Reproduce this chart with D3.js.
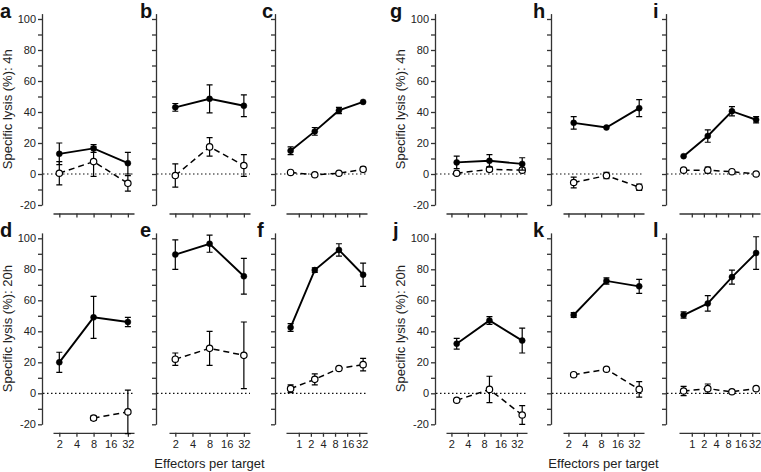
<!DOCTYPE html>
<html>
<head>
<meta charset="utf-8">
<script src="https://cdn.jsdelivr.net/npm/d3@7"></script>
<style>
  body { margin: 0; background: #fff; }
  text { font-family: "Liberation Sans", Arial, sans-serif; }
</style>
</head>
<body>
<script>
// effector:target ratios
var ratiosA = [2, 8, 32];          // panels a, b, d, e
var ratiosG = [2.5, 10, 40];       // panels g, h, j, k
var ratiosC = [0.625, 2.5, 10, 40]; // panels c, f, i, l

var ticks3 = [2, 4, 8, 16, 32];
var ticks4 = [1, 2, 4, 8, 16, 32];
var yTicks = [-20, -10, 0, 10, 20, 30, 40, 50, 60, 70, 80, 90, 100];
var yLabelTicks = [-20, 0, 20, 40, 60, 80, 100];

// 4h (top row)
var aSolid = [13, 16.5, 7],        aSolidErr = [7, 2.5, 7];
var aOpen = [0.5, 8, -6],          aOpenErr = [7.5, 9.5, 5];
var bSolid = [43, 48.5, 44],       bSolidErr = [2.5, 9, 7];
var bOpen = [-1, 17.5, 5.5],       bOpenErr = [7.5, 6, 7];
var cSolid = [15, 27.5, 41, 46.5], cSolidErr = [2.5, 2.5, 2, 0.5];
var cOpen = [1, -0.5, 0.5, 3],     cOpenErr = [0.5, 0.5, 0.5, 1.5];
var gSolid = [7.5, 8.5, 6.5],      gSolidErr = [4, 4, 4];
var gOpen = [0.5, 3, 2.5],         gOpenErr = [0.5, 1.5, 1.5];
var hSolid = [33, 30, 42.5],       hSolidErr = [4, 0.5, 5.5];
var hOpen = [-5.5, -1, -8.5],      hOpenErr = [3.5, 2, 2];
var iSolid = [11.5, 24.5, 40.5, 35], iSolidErr = [0.5, 4, 3, 2];
var iOpen = [2.5, 2.5, 1.5, 0],    iOpenErr = [1, 2, 0.5, 0.5];

// 20h (bottom row)
var dSolid = [20, 49, 46],         dSolidErr = [6.5, 13.5, 3];
var dOpen = [null, -16, -12],      dOpenErr = [null, 1.5, 14];
var eSolid = [89.5, 96.5, 75.5],   eSolidErr = [9.5, 5.5, 11.5];
var eOpen = [22, 29, 24.5],        eOpenErr = [4, 11, 21.5];
var fSolid = [42.5, 79.5, 92.5, 76.5], fSolidErr = [2.5, 1.5, 4, 7.5];
var fOpen = [3, 9, 16, 18.5],      fOpenErr = [2.5, 3.5, 1, 4];
var jSolid = [32, 47, 34],         jSolidErr = [3.5, 2.5, 8];
var jOpen = [-4.5, 2.5, -14],      jOpenErr = [0.5, 8.5, 6];
var kSolid = [50.5, 72.5, 69],     kSolidErr = [1.5, 2, 4.5];
var kOpen = [12, 15.5, 2.5],       kOpenErr = [1, 0.5, 5];
var lSolid = [50.5, 58, 75, 90.5], lSolidErr = [2, 5, 4.5, 10.5];
var lOpen = [1.5, 3, 1, 3],        lOpenErr = [3, 3, 0.5, 1];

var W = 761, H = 472;
var colAxisX = [42, 156, 275, 435, 551, 666];
var colXStart = [53, 169, 286, 446, 563, 679];
var rowTop = [19, 238.3];   // y of 100%
var xLen = 81;

var panels = [
  {id: "a", row: 0, col: 0, xs: ratiosA, solid: aSolid, solidErr: aSolidErr, open: aOpen, openErr: aOpenErr},
  {id: "b", row: 0, col: 1, xs: ratiosA, solid: bSolid, solidErr: bSolidErr, open: bOpen, openErr: bOpenErr},
  {id: "c", row: 0, col: 2, xs: ratiosC, solid: cSolid, solidErr: cSolidErr, open: cOpen, openErr: cOpenErr},
  {id: "g", row: 0, col: 3, xs: ratiosG, solid: gSolid, solidErr: gSolidErr, open: gOpen, openErr: gOpenErr},
  {id: "h", row: 0, col: 4, xs: ratiosG, solid: hSolid, solidErr: hSolidErr, open: hOpen, openErr: hOpenErr},
  {id: "i", row: 0, col: 5, xs: ratiosC, solid: iSolid, solidErr: iSolidErr, open: iOpen, openErr: iOpenErr},
  {id: "d", row: 1, col: 0, xs: ratiosA, solid: dSolid, solidErr: dSolidErr, open: dOpen, openErr: dOpenErr},
  {id: "e", row: 1, col: 1, xs: ratiosA, solid: eSolid, solidErr: eSolidErr, open: eOpen, openErr: eOpenErr},
  {id: "f", row: 1, col: 2, xs: ratiosC, solid: fSolid, solidErr: fSolidErr, open: fOpen, openErr: fOpenErr},
  {id: "j", row: 1, col: 3, xs: ratiosG, solid: jSolid, solidErr: jSolidErr, open: jOpen, openErr: jOpenErr},
  {id: "k", row: 1, col: 4, xs: ratiosG, solid: kSolid, solidErr: kSolidErr, open: kOpen, openErr: kOpenErr},
  {id: "l", row: 1, col: 5, xs: ratiosC, solid: lSolid, solidErr: lSolidErr, open: lOpen, openErr: lOpenErr}
];

var letterX = {a: 0, b: 140, c: 262, g: 390, h: 533, i: 653, d: 0, e: 140, f: 257, j: 393, k: 533, l: 653};

var svg = d3.select("body").append("svg")
  .attr("width", W)
  .attr("height", H);

panels.forEach(function(p) {
  var g = svg.append("g");
  var top = rowTop[p.row];
  var bottom = top + 186;
  var axisX = colAxisX[p.col];
  var x0 = colXStart[p.col];
  var xAxisY = bottom + 8.5;
  var fourPt = p.xs === ratiosC;

  var xDomain = fourPt ? [0.48, 50] : (p.xs === ratiosG ? [1.59, 49] : [1.55, 41]);
  var x = d3.scaleLog().domain(xDomain).range([x0, x0 + xLen]);
  var y = d3.scaleLinear().domain([-20, 100]).range([bottom, top]);
  var yAx = d3.scaleLinear().domain([-20, 103.5]).range([bottom, y(103.5)]);

  var labeled = (p.col === 0 || p.col === 3);

  // y axis
  var ya = g.append("g")
    .attr("transform", "translate(" + axisX + ",0)")
    .call(d3.axisLeft(yAx)
      .tickValues(yTicks)
      .tickSize(4)
      .tickSizeOuter(0)
      .tickPadding(2)
      .tickFormat(function(d) {
        return labeled && yLabelTicks.indexOf(d) >= 0 ? String(d) : "";
      }));
  ya.selectAll("path, line").attr("stroke", "#333").attr("stroke-width", 1.3);
  ya.selectAll("text").attr("font-size", "11px").attr("fill", "#222")
    .style("font-family", "'Liberation Sans', Arial, sans-serif");

  // x axis
  var xa = g.append("g")
    .attr("transform", "translate(0," + xAxisY + ")")
    .call(d3.axisBottom(x)
      .tickValues(fourPt ? ticks4 : ticks3)
      .tickSize(4)
      .tickSizeOuter(0)
      .tickPadding(3)
      .tickFormat(function(d) { return p.row === 1 ? String(d) : ""; }));
  xa.selectAll("path, line").attr("stroke", "#333").attr("stroke-width", 1.3);
  xa.selectAll("text").attr("font-size", "11px").attr("fill", "#222")
    .style("font-family", "'Liberation Sans', Arial, sans-serif")
    .attr("dx", function(d) {
      if (!fourPt) return 0;
      return d === 32 ? 2.5 : (d === 16 ? 0.5 : 0);
    });

  // zero line
  g.append("line")
    .attr("x1", axisX + 1)
    .attr("x2", x0 + xLen)
    .attr("y1", y(0))
    .attr("y2", y(0))
    .attr("stroke", "#111")
    .attr("stroke-width", 1.2)
    .attr("stroke-dasharray", "1.5,2.5");

  // y label
  if (labeled) {
    g.append("text")
      .attr("transform", "translate(" + (axisX - 30) + "," + ((yAx.range()[0] + yAx.range()[1]) / 2) + ") rotate(-90)")
      .attr("text-anchor", "middle")
      .attr("font-size", "13px")
      .attr("fill", "#222")
      .text(p.row === 0 ? "Specific lysis (%): 4h" : "Specific lysis (%): 20h");
  }

  // panel letter
  g.append("text")
    .attr("x", letterX[p.id])
    .attr("y", top - 1.5)
    .attr("font-size", "20px")
    .attr("font-weight", "bold")
    .attr("fill", "#111")
    .text(p.id);

  function series(vals, errs, dashed, filled) {
    var pts = vals.map(function(v, i) {
      return {x: p.xs[i], v: v, e: errs[i]};
    }).filter(function(d) { return d.v !== null; });

    g.selectAll(null)
      .data(pts.filter(function(d) { return d.e > 0.6; }))
      .enter()
      .append("path")
      .attr("d", function(d) {
        var cx = x(d.x), y1 = y(d.v + d.e), y2 = y(d.v - d.e);
        return "M" + cx + "," + y1 + "V" + y2 +
          "M" + (cx - 3) + "," + y1 + "H" + (cx + 3) +
          "M" + (cx - 3) + "," + y2 + "H" + (cx + 3);
      })
      .attr("fill", "none")
      .attr("stroke", "#000")
      .attr("stroke-width", 1.2);

    var line = d3.line()
      .x(function(d) { return x(d.x); })
      .y(function(d) { return y(d.v); });

    g.append("path")
      .datum(pts)
      .attr("d", line)
      .attr("fill", "none")
      .attr("stroke", "#000")
      .attr("stroke-width", dashed ? 1.5 : 1.9)
      .attr("stroke-dasharray", dashed ? "6,4" : null);

    g.selectAll(null)
      .data(pts)
      .enter()
      .append("circle")
      .attr("cx", function(d) { return x(d.x); })
      .attr("cy", function(d) { return y(d.v); })
      .attr("r", filled ? 3 : 3.2)
      .attr("fill", filled ? "#000" : "#fff")
      .attr("stroke", "#000")
      .attr("stroke-width", filled ? 0.5 : 1.2);
  }

  series(p.open, p.openErr, true, false);
  series(p.solid, p.solidErr, false, true);
});

// x titles
[1, 4].forEach(function(c) {
  svg.append("text")
    .attr("x", colXStart[c] + xLen / 2)
    .attr("y", 468)
    .attr("text-anchor", "middle")
    .attr("font-size", "13px")
    .attr("fill", "#222")
    .text("Effectors per target");
});
</script>
</body>
</html>
